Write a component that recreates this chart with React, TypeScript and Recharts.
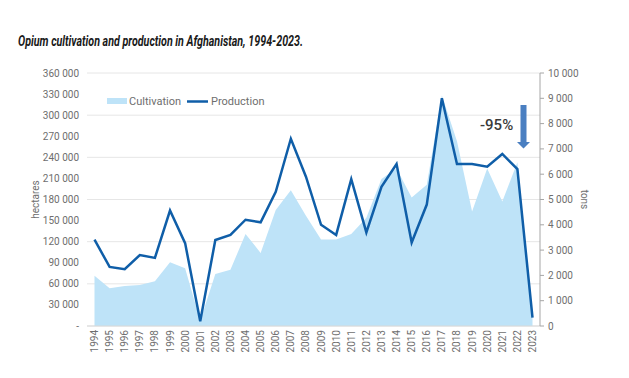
import { ComposedChart, Area, Line, XAxis, YAxis, CartesianGrid } from "recharts";

const years = [
  "1994", "1995", "1996", "1997", "1998", "1999", "2000", "2001", "2002", "2003",
  "2004", "2005", "2006", "2007", "2008", "2009", "2010", "2011", "2012", "2013",
  "2014", "2015", "2016", "2017", "2018", "2019", "2020", "2021", "2022", "2023",
];

// hectares
const cultivation = [
  71470, 53759, 56824, 58416, 63674, 90583, 82171, 7606, 74100, 80000,
  131000, 104000, 165000, 193000, 157000, 123000, 123000, 131000, 154000, 209000,
  224000, 183000, 201000, 328000, 263000, 163000, 224000, 177000, 233000, 10800,
];

// tons
const production = [
  3416, 2335, 2248, 2804, 2693, 4565, 3276, 185, 3400, 3600,
  4200, 4100, 5300, 7400, 5900, 4000, 3600, 5800, 3700, 5500,
  6400, 3300, 4800, 9000, 6400, 6400, 6300, 6800, 6200, 333,
];

const hectareTicks = [0, 30000, 60000, 90000, 120000, 150000, 180000, 210000, 240000, 270000, 300000, 330000, 360000];
const tonTicks = [0, 1000, 2000, 3000, 4000, 5000, 6000, 7000, 8000, 9000, 10000];

const AREA_COLOR = "#bee3f8";
const LINE_COLOR = "#0f5ea8";
const TEXT_COLOR = "#6e6e6e";

const data = years.map((year, i) => ({
  year,
  cultivation: cultivation[i],
  production: production[i],
}));

function spaced(v: number) {
  return String(v).replace(/\B(?=(\d{3})+(?!\d))/g, " ");
}

function YearTick({ x, y, payload }: any) {
  return (
    <text
      x={x}
      y={y}
      transform={`rotate(-90 ${x} ${y})`}
      textAnchor="end"
      dy="0.35em"
      fontSize={10}
      fill={TEXT_COLOR}
      fontFamily="Roboto"
    >
      {payload.value}
    </text>
  );
}

export default function App() {
  return (
    <div style={{ position: "absolute", left: 0, top: 0, width: 629, height: 378, background: "#fff", fontFamily: "Roboto" }}>
      <ComposedChart
        width={629}
        height={378}
        data={data}
        margin={{ top: 73, right: 29, bottom: 12, left: 20 }}
      >
        <CartesianGrid vertical={false} stroke="#e6e6e6" strokeWidth={1} yAxisId="left" />
        <XAxis
          dataKey="year"
          interval={0}
          padding={{ left: 7.5, right: 7.5 }}
          tick={<YearTick />}
          tickLine={false}
          tickSize={0}
          tickMargin={4}
          axisLine={{ stroke: "#d9d9d9" }}
          height={40}
        />
        <YAxis
          yAxisId="left"
          domain={[0, 360000]}
          ticks={hectareTicks}
          tickFormatter={(v: number) => (v === 0 ? "-" : spaced(v))}
          axisLine={false}
          tickLine={false}
          width={67}
          tick={{ fontSize: 10, fill: TEXT_COLOR }}
        />
        <YAxis
          yAxisId="right"
          orientation="right"
          domain={[0, 10000]}
          ticks={tonTicks}
          tickFormatter={(v: number) => spaced(v)}
          axisLine={{ stroke: "#a6a6a6" }}
          tickLine={{ stroke: "#a6a6a6" }}
          tickSize={4}
          tickMargin={4}
          width={60}
          tick={{ fontSize: 10, fill: TEXT_COLOR, textAnchor: "start" }}
        />
        <Area
          yAxisId="left"
          type="linear"
          dataKey="cultivation"
          name="Cultivation"
          fill={AREA_COLOR}
          fillOpacity={1}
          stroke="none"
          isAnimationActive={false}
        />
        <Line
          yAxisId="right"
          type="linear"
          dataKey="production"
          name="Production"
          stroke={LINE_COLOR}
          strokeWidth={2.5}
          dot={false}
          activeDot={false}
          isAnimationActive={false}
        />
      </ComposedChart>

      <svg
        width={629}
        height={378}
        style={{ position: "absolute", left: 0, top: 0, pointerEvents: "none" }}
      >
        <text
          x={18}
          y={46}
          fontSize={14}
          fontWeight="bold"
          fontStyle="italic"
          fontFamily="Roboto"
          fill="#1a1a1a"
          textLength={285}
          lengthAdjust="spacingAndGlyphs"
        >
          Opium cultivation and production in Afghanistan, 1994-2023.
        </text>

        <text
          x={35}
          y={199.5}
          transform="rotate(-90 35 199.5)"
          textAnchor="middle"
          dy="0.35em"
          fontSize={10}
          fill={TEXT_COLOR}
          fontFamily="Roboto"
        >
          hectares
        </text>
        <text
          x={584}
          y={199.5}
          transform="rotate(90 584 199.5)"
          textAnchor="middle"
          dy="0.35em"
          fontSize={10}
          fill={TEXT_COLOR}
          fontFamily="Roboto"
        >
          tons
        </text>

        {/* legend */}
        <rect x={107} y={98} width={20} height={6} fill={AREA_COLOR} />
        <text x={129} y={105} fontSize={11} fill={TEXT_COLOR} fontFamily="Roboto">
          Cultivation
        </text>
        <line x1={187} y1={101.5} x2={208} y2={101.5} stroke={LINE_COLOR} strokeWidth={2.5} />
        <text x={211} y={105} fontSize={11} fill={TEXT_COLOR} fontFamily="Roboto">
          Production
        </text>

        {/* -95% annotation */}
        <text x={480} y={130} fontSize={15} fontWeight={500} fill="#3a3a3a" fontFamily="Roboto">
          -95%
        </text>
        <polygon
          points="520.5,105 526.5,105 526.5,142 530,142 523.5,148.5 517,142 520.5,142"
          fill="#4a7fc1"
        />
      </svg>
    </div>
  );
}
